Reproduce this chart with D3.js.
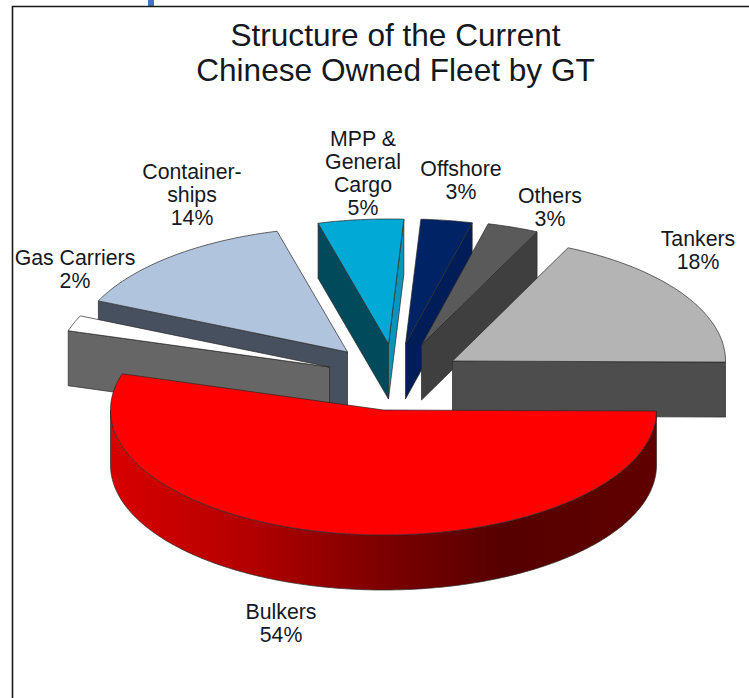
<!DOCTYPE html>
<html>
<head>
<meta charset="utf-8">
<title>Structure of the Current Chinese Owned Fleet by GT</title>
<script src="https://d3js.org/d3.v7.min.js"></script>
<style>
  html, body { margin: 0; padding: 0; background: #fff; }
  svg { display: block; }
  text { font-family: "Liberation Sans", Arial, sans-serif; fill: #14181f; }
</style>
</head>
<body>
<svg id="chart" width="749" height="698"></svg>
<script>
// Fleet shares in percent, in clockwise pie order
const categories = ["Bulkers", "Gas Carriers", "Container-ships", "MPP & General Cargo", "Offshore", "Others", "Tankers"];
const shares = [54, 2, 14, 5, 3, 3, 18];
const labelLines = [
  ["Bulkers", "54%"],
  ["Gas Carriers", "2%"],
  ["Container-", "ships", "14%"],
  ["MPP &", "General", "Cargo", "5%"],
  ["Offshore", "3%"],
  ["Others", "3%"],
  ["Tankers", "18%"]
];
const titleLines = ["Structure of the Current", "Chinese Owned Fleet by GT"];

// Face and wall colours per slice
const topColors   = ["#ff0000", "#ffffff", "#b0c4de", "#00a9d6", "#002366", "#5a5a5a", "#b4b4b4"];
const startWalls  = [null, "#666666", "#46505f", "#004a5c", null, null, null];
const endWalls    = [null, null, null, "#0c95bb", "#001d58", "#3f3f3f", "#4d4d4d"];
const rimWalls    = ["url(#bulkerWall)", null, null, null, null, null, null];

// Pie geometry and per-slice explosion offsets from the pie centre
const centre = { x: 383.5, y: 410 };
const rx = 273, ry = 125, depth = 55;
const explodeX = [0, -54, -36, 5, 22, 38, 69];
const explodeY = [0, -43, -58, -66, -66, -65, -49];
const paintOrder = [3, 4, 5, 6, 2, 1, 0];

// Label anchor: x centre and first baseline
const labelX = [281, 75, 192, 363, 461, 550, 698];
const labelY = [619, 265, 179, 146, 176, 203, 246];
const labelLeading = 23;

const svg = d3.select("#chart");

const defs = svg.append("defs");
const grad = defs.append("linearGradient")
  .attr("id", "bulkerWall")
  .attr("gradientUnits", "userSpaceOnUse")
  .attr("x1", centre.x - rx).attr("x2", centre.x + rx)
  .attr("y1", 0).attr("y2", 0);
[[0, "#d80000"], [0.25, "#b40000"], [0.5, "#7c0000"], [0.72, "#560000"], [1, "#600000"]]
  .forEach(([o, c]) => grad.append("stop").attr("offset", o).attr("stop-color", c));

// Frame and the small tab above it
svg.append("rect").attr("x", 148).attr("y", 0).attr("width", 6).attr("height", 6).attr("fill", "#4472c4");
svg.append("path")
  .attr("d", "M12.5,698V6.5H749")
  .attr("fill", "none").attr("stroke", "#1a1a1a").attr("stroke-width", 1.6);

// Title
svg.append("g").selectAll("text").data(titleLines).join("text")
  .attr("x", 395.5)
  .attr("y", (d, i) => 46 + i * 34.5)
  .attr("text-anchor", "middle")
  .attr("font-size", 31.6)
  .text(d => d);

// Clockwise angles with zero at the top of the ellipse
const pie = d3.pie().value(d => d).sort(null)
  .startAngle(90.5 * Math.PI / 180)
  .endAngle((90.5 + 360) * Math.PI / 180);
const arcs = pie(shares);

const rimPoint = (a, ox, oy, drop) => [
  ox + rx * Math.sin(a),
  oy - ry * Math.cos(a) + drop
];
const rimSamples = (a0, a1) => {
  const n = Math.max(2, Math.ceil(Math.abs(a1 - a0) * 60));
  return d3.range(n + 1).map(i => a0 + (a1 - a0) * i / n);
};
const line = d3.line();
const edgeStroke = { stroke: "#2a2a2a", width: 0.7 };

function addPoly(g, pts, fill) {
  g.append("path")
    .attr("d", line(pts) + "Z")
    .attr("fill", fill)
    .attr("stroke", edgeStroke.stroke)
    .attr("stroke-width", edgeStroke.width)
    .attr("stroke-linejoin", "round");
}

const slices = svg.append("g");
paintOrder.forEach(i => {
  const { startAngle: a0, endAngle: a1 } = arcs[i];
  const ox = centre.x + explodeX[i], oy = centre.y + explodeY[i];
  const g = slices.append("g").attr("class", "slice").datum(categories[i]);
  const apex = [ox, oy];
  const apexLow = [ox, oy + depth];

  // Radial walls are seen only when their outward normal faces the viewer
  if (startWalls[i] && Math.sin(a0) < 0) {
    addPoly(g, [apex, rimPoint(a0, ox, oy, 0), rimPoint(a0, ox, oy, depth), apexLow], startWalls[i]);
  }
  if (endWalls[i] && Math.sin(a1) > 0) {
    addPoly(g, [apex, rimPoint(a1, ox, oy, 0), rimPoint(a1, ox, oy, depth), apexLow], endWalls[i]);
  }

  // Curved outer wall on the near half of the rim
  if (rimWalls[i]) {
    const w0 = Math.max(a0, Math.PI / 2), w1 = Math.min(a1, 3 * Math.PI / 2);
    const angles = rimSamples(w0, w1);
    const upper = angles.map(a => rimPoint(a, ox, oy, 0));
    const lower = angles.slice().reverse().map(a => rimPoint(a, ox, oy, depth));
    addPoly(g, upper.concat(lower), rimWalls[i]);
  }

  // Top face
  const rim = rimSamples(a0, a1).map(a => rimPoint(a, ox, oy, 0));
  addPoly(g, [apex].concat(rim), topColors[i]);
});

// Slice labels
const labels = svg.append("g");
labelLines.forEach((lines, i) => {
  labels.append("text")
    .attr("text-anchor", "middle")
    .attr("font-size", 21.3)
    .selectAll("tspan").data(lines).join("tspan")
    .attr("x", labelX[i])
    .attr("y", (d, k) => labelY[i] + k * labelLeading)
    .text(d => d);
});
</script>
</body>
</html>
